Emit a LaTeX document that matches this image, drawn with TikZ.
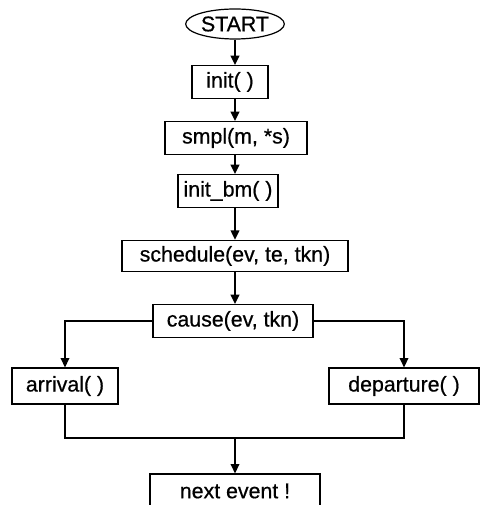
\documentclass[tikz,border=0pt]{standalone}
\usepackage{fontspec}
\setmainfont{Liberation Sans}
\newfontfamily\scanfont[FakeBold=0.6]{Liberation Sans}
\usetikzlibrary{arrows.meta,positioning,shapes.geometric}

\begin{document}
\begin{tikzpicture}[>={Triangle[width=6.5pt,length=7pt]}, x=0.75pt, y=-0.75pt,
    procbox/.style={draw, line width=0.9pt, minimum height=24.5pt, inner sep=0pt,
        font=\scanfont\fontsize{16}{19}\selectfont},
    flow/.style={line width=1.1pt}]
    % Page frame
    \clip (0,0) rectangle (481,505);

    % Start
    \node[ellipse, draw, line width=0.9pt, minimum width=74pt, minimum height=22.5pt,
        inner sep=0pt, font=\scanfont\fontsize{16}{19}\selectfont] (start) at (235,24) {START};

    % Main chain
    \node[procbox, minimum width=57pt] (init) at (230,82) {init( )};
    \node[procbox, minimum width=106.5pt] (smpl) at (236,138) {smpl(m, *s)};
    \node[procbox, minimum width=75pt] (initbm) at (228,191) {init\_bm( )};
    \node[procbox, minimum width=169.5pt, minimum height=23.5pt] (sched) at (235,256) {schedule(ev, te, tkn)};
    \node[procbox, minimum width=120pt] (cause) at (233,321) {cause(ev, tkn)};

    % Event handlers
    \node[procbox, minimum width=79.5pt, minimum height=27pt] (arrival) at (65,386) {arrival( )};
    \node[procbox, minimum width=112.5pt, minimum height=27pt] (departure) at (404,386) {departure( )};

    % Next event
    \node[procbox, minimum width=127.5pt, minimum height=25.5pt] (next) at (235,491) {next event !};
    \coordinate (merge) at (235,438);

    % Connectors down the chain
    \draw[flow, ->] (start) -- (init.north -| start);
    \draw[flow, ->] (init.south -| start) -- (smpl.north -| start);
    \draw[flow, ->] (smpl.south -| start) -- (initbm.north -| start);
    \draw[flow, ->] (initbm.south -| start) -- (sched.north -| start);
    \draw[flow, ->] (sched.south -| start) -- (cause.north -| start);

    % Branches
    \draw[flow, ->] (cause.west) -| (arrival.north);
    \draw[flow, ->] (cause.east) -| (departure.north);

    % Join
    \draw[flow] (arrival.south) |- (merge) -| (departure.south);
    \draw[flow, ->] (merge) -- (next.north -| merge);

\end{tikzpicture}
\end{document}
